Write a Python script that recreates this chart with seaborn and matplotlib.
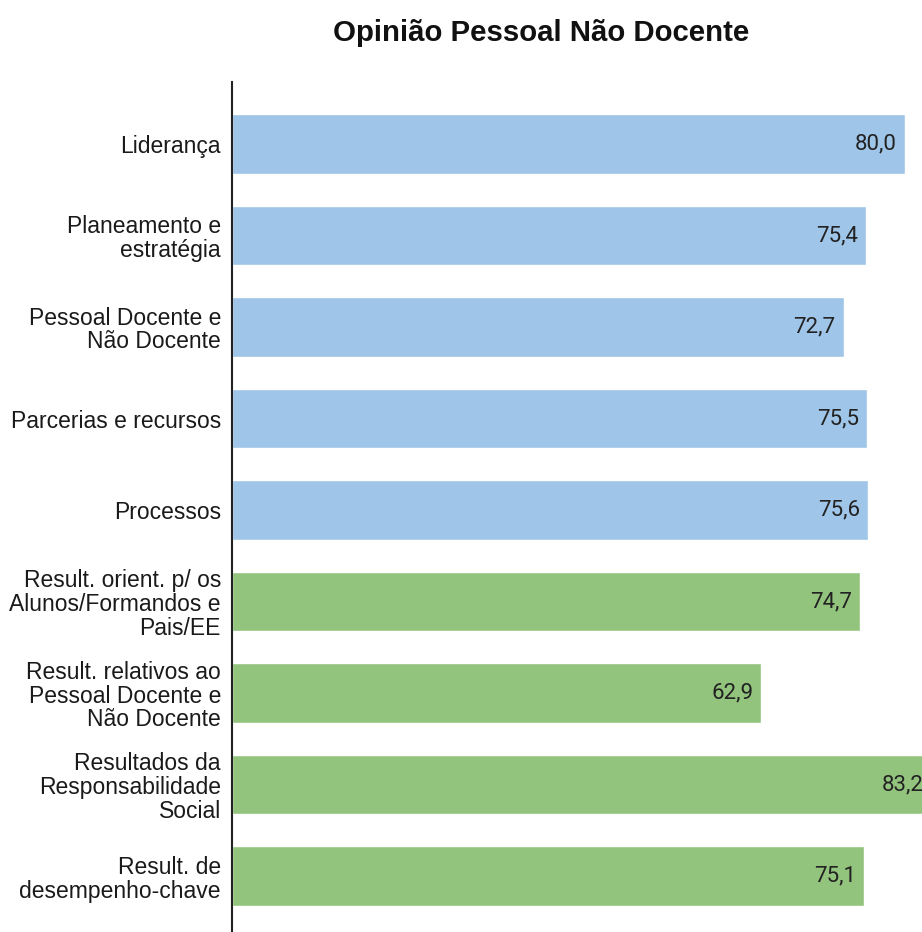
import matplotlib
matplotlib.use("Agg")
import matplotlib.pyplot as plt
import seaborn as sns
import pandas as pd

categories = [
    "Liderança",
    "Planeamento e\nestratégia",
    "Pessoal Docente e\nNão Docente",
    "Parcerias e recursos",
    "Processos",
    "Result. orient. p/ os\nAlunos/Formandos e\nPais/EE",
    "Result. relativos ao\nPessoal Docente e\nNão Docente",
    "Resultados da\nResponsabilidade\nSocial",
    "Result. de\ndesempenho-chave",
]
values = [80.0, 75.4, 72.7, 75.5, 75.6, 74.7, 62.9, 83.2, 75.1]
groups = ["Meios"] * 5 + ["Resultados"] * 4
palette = {"Meios": "#9fc5e8", "Resultados": "#93c47d"}

df = pd.DataFrame({"cat": categories, "val": values, "grp": groups})

sns.set_style("white")
plt.rcParams["font.family"] = ["Liberation Sans", "DejaVu Sans"]

fig = plt.figure(figsize=(9.22, 9.32), dpi=100)
ax = fig.add_axes([232 / 922, 0.0, 1 - 232 / 922, 1 - 82 / 932])

sns.barplot(data=df, x="val", y="cat", hue="grp", palette=palette,
            orient="h", dodge=False, legend=False, width=0.65, ax=ax,
            saturation=1)

ax.set_xlim(0, 82.02)
ax.set_ylim(8.61, -0.678)
ax.set_xlabel("")
ax.set_ylabel("")
ax.set_xticks([])
ax.tick_params(axis="y", length=0, pad=8, labelsize=16.5, labelcolor="#1a1a1a")
for lab in ax.get_yticklabels():
    lab.set_linespacing(1.05)
for s in ["top", "right", "bottom"]:
    ax.spines[s].set_visible(False)
ax.spines["left"].set_color("#222222")
ax.spines["left"].set_linewidth(1.5)

for i, v in enumerate(values):
    ax.text(v - 0.95, i, f"{v:.1f}".replace(".", ","), ha="right", va="center",
            fontsize=16, family=["Roboto", "DejaVu Sans"], color="#222222",
            clip_on=False)

fig.text(0.587, 0.965, "Opinião Pessoal Não Docente", ha="center", va="center",
         fontsize=21.2, fontweight="bold", color="#111111")

fig.savefig("out.png", dpi=100)
